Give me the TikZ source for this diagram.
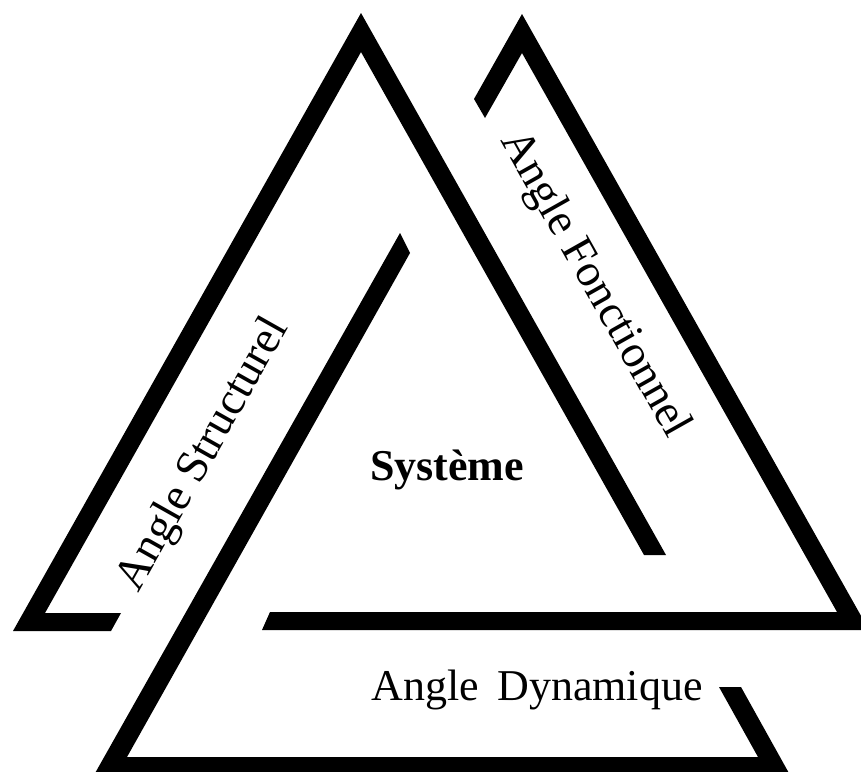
\documentclass[tikz,border=0pt]{standalone}
\usepackage{fontspec}
\setmainfont{Liberation Serif}
\begin{document}
\begin{tikzpicture}[x=1pt,y=-1pt,
		band/.style={fill=black,draw=none},
		lbl/.style={inner sep=0pt,font=\fontsize{44}{50}\selectfont},
		slant/.style={lbl,font=\fontsize{46}{52}\selectfont}]
	\useasboundingbox (0,0) rectangle (861,771);
	% angle structurel
	\fill[band] (111,631) -- (13,631) -- (361,13) -- (666,555) -- (644,555)
		-- (361,52) -- (45,613) -- (121,613) -- cycle;
	% angle fonctionnel
	\fill[band] (262,630) -- (869,630) -- (522,14) -- (474,99) -- (485,118)
		-- (522,53) -- (837,612) -- (270,612) -- cycle;
	% angle dynamique
	\fill[band] (400,233) -- (94,775) -- (790,775) -- (741,687) -- (719,687)
		-- (758,757) -- (127,757) -- (410,253) -- cycle;
	
	\node[slant,rotate=60.6] (struct) at (204,455) {Angle Structurel};
	\node[slant,rotate=-60.6] (fonct) at (594,285) {Angle Fonctionnel};
	\node[lbl] (dyn) at (537,690) {Angle\, Dynamique};
	\node[lbl,font=\fontsize{44}{50}\selectfont\bfseries] (sys) at (447,470) {Système};
\end{tikzpicture}
\end{document}
